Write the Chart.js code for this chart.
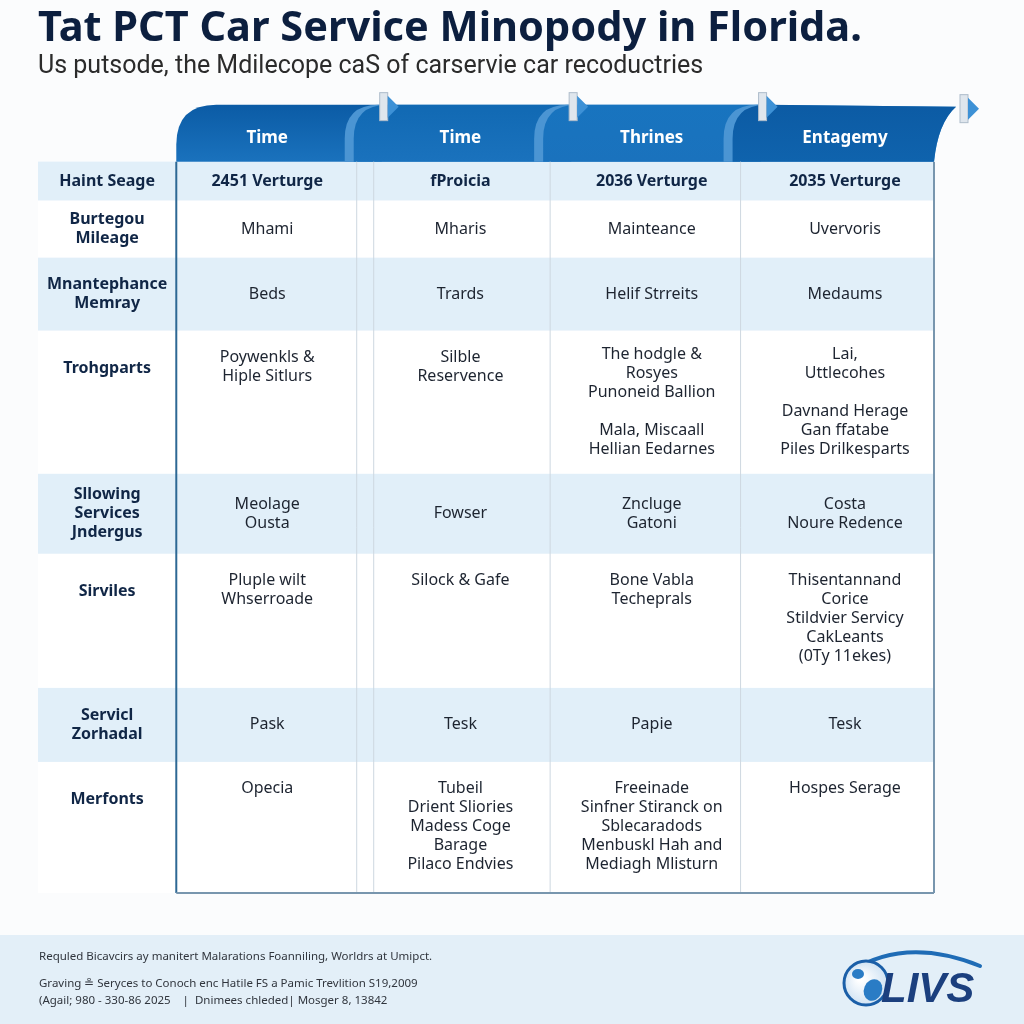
<!DOCTYPE html>
<html>
<head>
<meta charset="utf-8">
<script src="https://cdn.jsdelivr.net/npm/chart.js@4.4.1/dist/chart.umd.min.js"></script>
<style>
  html, body { margin: 0; padding: 0; background: #fbfcfd; }
  #wrap { width: 1024px; height: 1024px; position: relative; }
</style>
</head>
<body>
<div id="wrap"><canvas id="tableChart"></canvas></div>
<script>
// tab headers across the top
const columnHeaders = ['Time', 'Time', 'Thrines', 'Entagemy'];

// first (shaded) row of the table
const headerRow = ['Haint Seage', '2451 Verturge', 'fProicia', '2036 Verturge', '2035 Verturge'];

// row labels and the four columns, one entry per row, lines in each cell
const rowLabels = [
  ['Burtegou', 'Mileage'],
  ['Mnantephance', 'Memray'],
  ['Trohgparts'],
  ['Sllowing', 'Services', 'Jndergus'],
  ['Sirviles'],
  ['Servicl', 'Zorhadal'],
  ['Merfonts']
];
const col1 = [['Mhami'], ['Beds'], ['Poywenkls &', 'Hiple Sitlurs'], ['Meolage', 'Ousta'],
  ['Pluple wilt', 'Whserroade'], ['Pask'], ['Opecia']];
const col2 = [['Mharis'], ['Trards'], ['Silble', 'Reservence'], ['Fowser'], ['Silock & Gafe'], ['Tesk'],
  ['Tubeil', 'Drient Sliories', 'Madess Coge', 'Barage', 'Pilaco Endvies']];
const col3 = [['Mainteance'], ['Helif Strreits'],
  ['The hodgle &', 'Rosyes', 'Punoneid Ballion', '', 'Mala, Miscaall', 'Hellian Eedarnes'],
  ['Zncluge', 'Gatoni'], ['Bone Vabla', 'Techeprals'], ['Papie'],
  ['Freeinade', 'Sinfner Stiranck on', 'Sblecaradods', 'Menbuskl Hah and', 'Mediagh Mlisturn']];
const col4 = [['Uvervoris'], ['Medaums'],
  ['Lai,', 'Uttlecohes', '', 'Davnand Herage', 'Gan ffatabe', 'Piles Drilkesparts'],
  ['Costa', 'Noure Redence'],
  ['Thisentannand', 'Corice', 'Stildvier Servicy', 'CakLeants', '(0Ty 11ekes)'],
  ['Tesk'], ['Hospes Serage']];

const footerLines = [
  'Requled Bicavcirs ay manitert Malarations Foanniling, Worldrs at Umipct.',
  'Graving \u2257 Seryces to Conoch enc Hatile FS a Pamic Trevlition S19,2009',
  '(Agail; 980 - 330-86 2025    |  Dnimees chleded| Mosger 8, 13842'
];

// ---- layout (not data) ----
const rowSpans = [39, 57, 73, 143, 80, 134, 74, 131]; // relative row heights, header row first
const colX = [-0.365, 0.48, 1.5, 2.51, 3.53];         // centre of label column + 4 columns on the x scale
const colEdges = [0, 1, 2, 3, 4];
const FONT = '"Noto Sans", "Open Sans", sans-serif';
const NAVY = '#102646';

const rowStart = [];
let acc = 0;
rowSpans.forEach(h => { rowStart.push(acc); acc += h; });
const totalSpan = acc;

const columns = [rowLabels, col1, col2, col3, col4];
const cells = [];
headerRow.forEach((txt, c) => {
  cells.push({ x: colX[c], y: rowStart[0] + rowSpans[0] / 2, y0: rowStart[0], y1: rowStart[0] + rowSpans[0],
    lines: [txt], kind: 'head' });
});
for (let r = 0; r < rowLabels.length; r++) {
  const rr = r + 1;
  columns.forEach((col, c) => {
    cells.push({ x: colX[c], y: rowStart[rr] + rowSpans[rr] / 2, y0: rowStart[rr], y1: rowStart[rr] + rowSpans[rr],
      lines: col[r], kind: c === 0 ? 'label' : 'cell' });
  });
}

const tablePlugin = {
  id: 'tablePlugin',
  beforeDraw(chart) {
    const ctx = chart.ctx;
    const xs = chart.scales.x, ys = chart.scales.y;
    const area = chart.chartArea;
    const padL = chart.options.layout.padding.left;
    ctx.save();
    ctx.fillStyle = '#fbfcfd';
    ctx.fillRect(0, 0, chart.width, chart.height);

    // row bands
    rowSpans.forEach((h, r) => {
      const top = ys.getPixelForValue(rowStart[r]);
      const bot = ys.getPixelForValue(rowStart[r] + h);
      ctx.fillStyle = r % 2 === 0 ? '#e1eff9' : '#ffffff';
      ctx.fillRect(padL, top, area.right - padL, bot - top);
    });

    // tabs
    const tTop = xs.top, tBot = area.top;
    const tabCols = ['#0b5ba5', '#1169b3', '#1874bf', '#0c5ba4'];
    for (let c = 0; c < 4; c++) {
      const l = xs.getPixelForValue(colEdges[c]) - (c ? 12 : 0);
      const rgt = xs.getPixelForValue(colEdges[c + 1]) + (c < 3 ? 16 : 0);
      const R = c ? 34 : 40;
      const shape = (dx) => {
        ctx.beginPath();
        ctx.moveTo(l + dx, tBot);
        ctx.lineTo(l + dx, tTop + R);
        ctx.quadraticCurveTo(l + dx, tTop, l + dx + R, tTop);
        if (c < 3) {
          ctx.lineTo(rgt, tTop);
          ctx.lineTo(rgt, tBot);
        } else {
          ctx.lineTo(rgt + 22, tTop + 2);
          ctx.quadraticCurveTo(rgt + 4, tTop + 18, rgt, tBot);
        }
        ctx.closePath();
      };
      if (c) {
        ctx.fillStyle = '#4b95d3';
        shape(-9);
        ctx.fill();
      }
      const g = ctx.createLinearGradient(0, tTop, 0, tBot);
      g.addColorStop(0, tabCols[c]);
      g.addColorStop(1, c === 3 ? '#0f63ad' : '#1a72bd');
      ctx.fillStyle = g;
      shape(0);
      ctx.fill();
    }
    // arrow markers
    for (let c = 1; c <= 4; c++) {
      const ax = c < 4 ? xs.getPixelForValue(colEdges[c]) + 18 : xs.getPixelForValue(colEdges[4]) + 30;
      const ay = tTop + (c < 4 ? 0 : 2);
      ctx.fillStyle = '#dfe6ed';
      ctx.strokeStyle = '#aebccb';
      ctx.lineWidth = 1;
      ctx.fillRect(ax - 4, ay - 12, 8, 28);
      ctx.strokeRect(ax - 4, ay - 12, 8, 28);
      ctx.fillStyle = '#3d91d6';
      ctx.beginPath();
      ctx.moveTo(ax + 4, ay - 9);
      ctx.lineTo(ax + 15, ay + 2);
      ctx.lineTo(ax + 4, ay + 13);
      ctx.closePath();
      ctx.fill();
    }

    // footer band
    ctx.fillStyle = '#e3eff8';
    ctx.fillRect(0, 935, chart.width, chart.height - 935);
    ctx.restore();
  },
  afterDatasetsDraw(chart) {
    const ctx = chart.ctx;
    const xs = chart.scales.x, ys = chart.scales.y;
    const area = chart.chartArea;
    ctx.save();

    // vertical rules
    const vline = (x, col, w) => {
      ctx.strokeStyle = col; ctx.lineWidth = w;
      ctx.beginPath(); ctx.moveTo(x, area.top); ctx.lineTo(x, area.bottom); ctx.stroke();
    };
    const p1 = xs.getPixelForValue(colEdges[1]);
    vline(p1 - 9, '#ced8e1', 1);
    vline(p1 + 8, '#ced8e1', 1);
    vline(xs.getPixelForValue(colEdges[2]) - 5, '#ced8e1', 1);
    vline(xs.getPixelForValue(colEdges[3]) - 4, '#ced8e1', 1);
    vline(xs.getPixelForValue(colEdges[0]), '#2d6894', 2);
    vline(xs.getPixelForValue(colEdges[4]), '#7896ae', 2);
    ctx.strokeStyle = '#7896ae'; ctx.lineWidth = 2;
    ctx.beginPath();
    ctx.moveTo(xs.getPixelForValue(colEdges[0]), area.bottom);
    ctx.lineTo(xs.getPixelForValue(colEdges[4]), area.bottom);
    ctx.stroke();

    // cell text
    const meta = chart.getDatasetMeta(0);
    const data = chart.data.datasets[0].data;
    ctx.textAlign = 'center';
    ctx.textBaseline = 'middle';
    meta.data.forEach((pt, i) => {
      const d = data[i];
      const top = ys.getPixelForValue(d.y0), bot = ys.getPixelForValue(d.y1);
      const h = bot - top;
      const lh = 19;
      const n = d.lines.length;
      const centred = (h - n * lh) / 2;
      const pad = d.kind === 'label' ? 28 : 17;
      const first = top + (h < 100 ? centred : Math.min(pad, centred)) + lh / 2;
      if (d.kind === 'cell') {
        ctx.font = '16px ' + FONT;
        ctx.fillStyle = '#1d2430';
      } else {
        ctx.font = 'bold 16px ' + FONT;
        ctx.fillStyle = NAVY;
      }
      d.lines.forEach((t, k) => ctx.fillText(t, pt.x, first + k * lh));
    });

    // footer text
    ctx.textAlign = 'left';
    ctx.font = '11.5px ' + FONT;
    ctx.fillStyle = '#30353d';
    ctx.fillText(footerLines[0], 39, 957);
    ctx.fillText(footerLines[1], 39, 984);
    ctx.fillText(footerLines[2], 39, 1001);

    // logo
    ctx.strokeStyle = '#1f6cb6'; ctx.lineWidth = 4; ctx.lineCap = 'round';
    ctx.beginPath(); ctx.moveTo(850, 972); ctx.quadraticCurveTo(905, 936, 980, 966); ctx.stroke();
    const gg = ctx.createRadialGradient(860, 978, 3, 866, 984, 23);
    gg.addColorStop(0, '#ffffff'); gg.addColorStop(1, '#cfe2f3');
    ctx.fillStyle = gg;
    ctx.beginPath(); ctx.arc(866, 983, 22, 0, Math.PI * 2); ctx.fill();
    ctx.strokeStyle = '#1b5fa8'; ctx.lineWidth = 3;
    ctx.stroke();
    ctx.fillStyle = '#2a7cc5';
    ctx.beginPath(); ctx.ellipse(873, 990, 9, 11, 0.4, 0, Math.PI * 2); ctx.fill();
    ctx.beginPath(); ctx.ellipse(858, 974, 6, 5, 0, 0, Math.PI * 2); ctx.fill();
    ctx.font = 'italic bold 42px "Liberation Sans", Arial, sans-serif';
    ctx.fillStyle = '#1b3f7e';
    ctx.textBaseline = 'alphabetic';
    ctx.fillText('LIVS', 881, 1002);
    ctx.restore();
  }
};

new Chart(document.getElementById('tableChart'), {
  type: 'scatter',
  data: {
    datasets: [{
      data: cells,
      pointRadius: 0,
      pointHoverRadius: 0
    }]
  },
  options: {
    responsive: true,
    maintainAspectRatio: false,
    animation: false,
    events: [],
    layout: { padding: { left: 38, right: 90, top: 0, bottom: 131 } },
    plugins: {
      legend: { display: false },
      tooltip: { enabled: false },
      title: {
        display: true,
        text: 'Tat PCT Car Service Minopody in Florida.',
        align: 'start',
        color: '#0c1f3f',
        font: { family: FONT, size: 41.5, weight: 'bold', lineHeight: 1.1 },
        padding: { top: 6, bottom: 0 }
      },
      subtitle: {
        display: true,
        text: 'Us putsode, the Mdilecope caS of carservie car recoductries',
        align: 'start',
        color: '#2b2b2b',
        font: { family: 'Roboto, sans-serif', size: 25, weight: 'normal', lineHeight: 1.2 },
        padding: { top: 0, bottom: 23 }
      }
    },
    scales: {
      x: {
        type: 'linear',
        position: 'top',
        min: -0.73,
        max: 4,
        afterBuildTicks: s => { s.ticks = colX.slice(1).map(v => ({ value: v })); },
        afterFit: s => { s.height = 57; },
        ticks: {
          autoSkip: false,
          maxRotation: 0,
          padding: 13,
          color: '#ffffff',
          font: { family: FONT, size: 17, weight: 'bold' },
          callback: (v, i) => columnHeaders[i]
        },
        grid: { display: false, drawTicks: false },
        border: { display: false }
      },
      y: { type: 'linear', reverse: true, min: 0, max: totalSpan, display: false }
    }
  },
  plugins: [tablePlugin]
});
</script>
</body>
</html>
